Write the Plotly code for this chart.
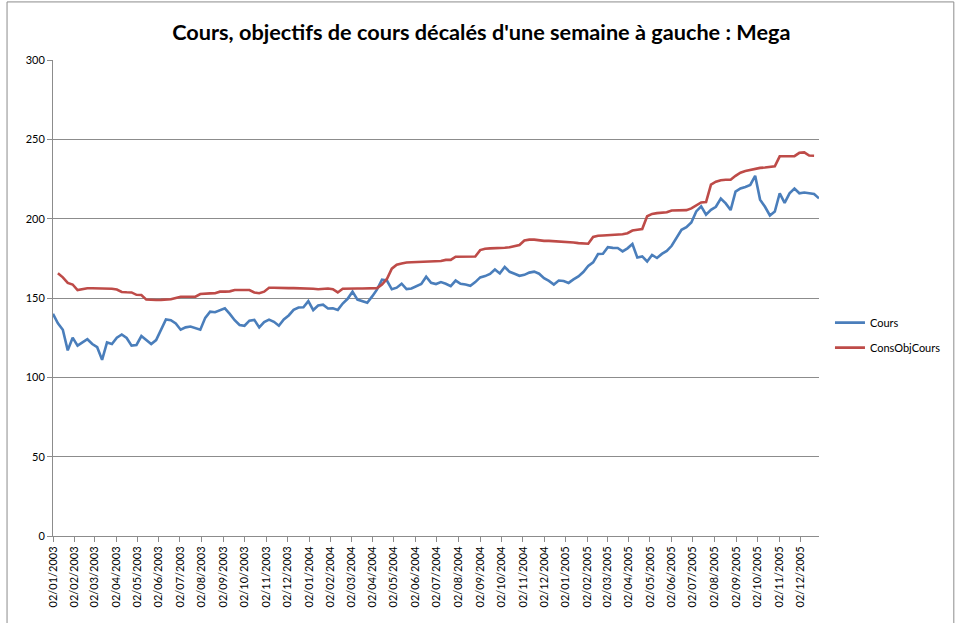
import pandas as pd
import plotly.graph_objects as go

title = "Cours, objectifs de cours décalés d'une semaine à gauche : Mega"
series_names = ["Cours", "ConsObjCours"]

# weekly readings (starting 02/01/2003)
cours = [
    140, 134, 130, 117, 125, 120, 122, 124, 121, 119,
    111, 122, 121, 125, 127, 124.8, 120, 120.4, 126, 123.5,
    121, 123.5, 130.5, 136.5, 136, 134, 130, 131.5, 132, 131,
    130, 137.5, 141.4, 141, 142.4, 143.5, 140, 136, 133, 132.5,
    135.7, 136.2, 131.5, 134.8, 136.4, 135, 132.5, 136.5, 139, 142.5,
    144, 144.2, 148, 142.4, 145.3, 145.8, 143.4, 143.5, 142.5, 146.5,
    149.5, 154, 149, 148, 147, 151, 155.4, 161.5, 161, 155.5,
    156.5, 159, 155.6, 156, 157.5, 158.8, 163.4, 159.6, 158.8, 160,
    159, 157.5, 161, 159, 158.5, 157.7, 160, 163, 163.8, 165.2,
    168, 165.5, 169.5, 166.5, 165.3, 164, 164.6, 166, 166.6, 165.3,
    162.5, 160.8, 158.5, 161, 160.7, 159.5, 161.7, 163.6, 166.4, 170.2,
    172.5, 177.7, 177.9, 182, 181.6, 181.5, 179.4, 181.3, 184, 175.5,
    176.2, 173, 177.1, 175.2, 177.8, 179.7, 182.9, 187.8, 193, 194.6,
    197.6, 204.6, 207.8, 202.5, 205.6, 207.5, 212.7, 209.6, 205.4, 217,
    219, 220, 221.3, 227, 212, 207.5, 202, 204.5, 216, 210,
    216, 219, 216, 216.5, 216.2, 215.5, 212.8,
]

# weekly readings (starting 09/01/2003)
cons_obj_cours = [
    165.6, 163, 159.5, 158.5, 155, 155.5, 156.1, 156.1, 156.1, 156.1,
    156.1, 155.8, 155.3, 153.8, 153.6, 153.5, 152, 151.9, 149, 148.7,
    148.7, 148.8, 149, 149.2, 150, 150.8, 150.8, 150.8, 150.8, 152.5,
    152.9, 152.9, 153, 154, 154, 154.2, 155, 155, 155, 155,
    153.5, 153, 154, 156.5, 156.5, 156.3, 156.3, 156.2, 156.2, 156.2,
    156.1, 156, 155.8, 155.5, 155.8, 156, 155.5, 153.5, 155.8, 156,
    156, 156, 156, 156, 156, 156.2, 158.5, 162, 168.5, 171,
    171.8, 172.4, 172.5, 172.6, 172.7, 173, 173, 173, 173.3, 174,
    174, 176, 176, 176, 176, 176.2, 180.2, 181, 181.3, 181.3,
    181.5, 181.7, 182, 182.5, 183.4, 186.2, 186.8, 186.8, 186.3, 186,
    186, 185.8, 185.7, 185.6, 185.5, 185, 184.6, 184.4, 184.2, 188.5,
    189.2, 189.4, 189.5, 189.6, 189.7, 190.2, 190.8, 192.5, 193, 193.5,
    201.5, 203, 203.5, 203.6, 204, 205.2, 205.4, 205.4, 205.4, 206.5,
    208.5, 210.2, 210.5, 221.5, 223.3, 224.2, 224.5, 224.5, 227, 229,
    230, 230.7, 231.5, 232, 232.2, 232.5, 233, 239.3, 239.3, 239.3,
    239.4, 241.5, 241.8, 239.8, 239.7,
]

cours_dates = pd.date_range("2003-01-02", periods=len(cours), freq="7D")
obj_dates = pd.date_range("2003-01-09", periods=len(cons_obj_cours), freq="7D")

FONT = "Lato"
GRID = "#8c8c8c"

fig = go.Figure()
fig.add_trace(go.Scatter(x=cours_dates, y=cours, mode="lines", name=series_names[0],
                         line=dict(color="#4A7EBB", width=2.6), legendgroup="a"))
fig.add_trace(go.Scatter(x=obj_dates, y=cons_obj_cours, mode="lines", name=series_names[1],
                         line=dict(color="#BE4B48", width=2.6), legendgroup="b"))

fig.update_layout(
    width=957, height=623,
    margin=dict(l=53, r=137, t=60, b=87),
    paper_bgcolor="white", plot_bgcolor="white",
    font=dict(family=FONT, size=11, color="#000000"),
    title=dict(text="<b>" + title + "</b>", x=0.503, xanchor="center", y=0.948, yanchor="middle",
               font=dict(family=FONT, size=21.7, color="#000000")),
    showlegend=True,
    legend=dict(x=1.013, y=0.422, xanchor="left", yanchor="middle", tracegroupgap=6,
                font=dict(family=FONT, size=11), bgcolor="rgba(0,0,0,0)"),
    xaxis=dict(type="date", range=["2003-01-02", "2005-12-29"], tick0="2003-01-02", dtick="M1",
               tickformat="%d/%m/%Y", tickangle=-90, showgrid=False, showline=True,
               linecolor=GRID, linewidth=1, ticks="outside", ticklen=5, tickcolor=GRID,
               tickfont=dict(family=FONT, size=11), zeroline=False, automargin=False),
    yaxis=dict(range=[0, 300], dtick=50, showgrid=True, gridcolor=GRID, gridwidth=1,
               showline=True, linecolor=GRID, linewidth=1, ticks="outside", ticklen=5,
               tickcolor=GRID, tickfont=dict(family=FONT, size=11), zeroline=False,
               automargin=False),
)

fig.add_shape(type="rect", xref="paper", yref="paper", x0=-0.06, x1=1.176, y0=-0.3, y1=1.122,
              line=dict(color="#8c8c8c", width=1), fillcolor="rgba(0,0,0,0)", layer="below")

fig.write_html("out.html", config={"displayModeBar": False},
               post_script="document.body.style.margin='0px';")
